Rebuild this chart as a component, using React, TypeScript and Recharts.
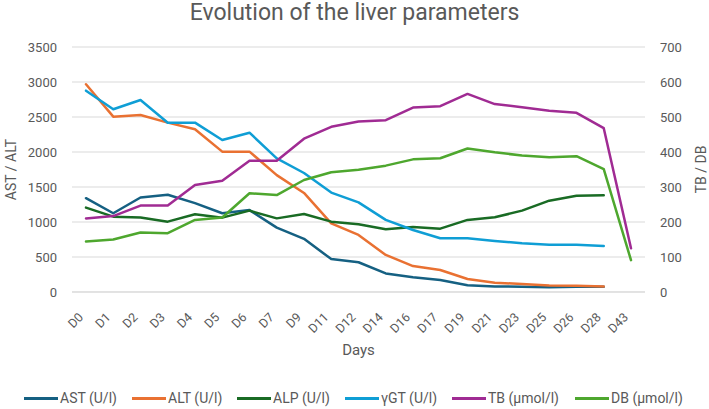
import React from 'react';
import {
  LineChart,
  Line,
  XAxis,
  YAxis,
  CartesianGrid,
  Legend,
} from 'recharts';

// Sampling days
const days = ['D0', 'D1', 'D2', 'D3', 'D4', 'D5', 'D6', 'D7', 'D9', 'D11', 'D12', 'D14', 'D16', 'D17', 'D19', 'D21', 'D23', 'D25', 'D26', 'D28', 'D43'];

// Enzymes (U/l), left axis
const ast = [1340, 1125, 1350, 1390, 1270, 1125, 1170, 920, 760, 470, 425, 265, 210, 170, 95, 78, 76, 68, 75, 76, null];
const alt = [2967, 2505, 2529, 2420, 2325, 2005, 2005, 1670, 1415, 980, 815, 530, 370, 315, 185, 133, 114, 92, 90, 78, null];
const alp = [1205, 1076, 1065, 1005, 1110, 1062, 1162, 1052, 1114, 1005, 967, 897, 929, 905, 1030, 1067, 1162, 1305, 1376, 1381, null];
const ggt = [2876, 2610, 2743, 2419, 2419, 2171, 2276, 1910, 1700, 1420, 1281, 1030, 886, 767, 767, 730, 695, 676, 676, 657, null];

// Bilirubin (µmol/l), right axis
const tb = [210, 217, 247, 247, 306, 318, 375, 375, 438, 472, 487, 491, 527, 531, 566, 537, 528, 518, 512, 468, 125];
const db = [144, 150, 170, 168, 206, 213, 282, 277, 320, 342, 349, 361, 379, 382, 410, 399, 390, 385, 388, 351, 91];

const leftTicks = [0, 500, 1000, 1500, 2000, 2500, 3000, 3500];
const rightTicks = [0, 100, 200, 300, 400, 500, 600, 700];

const series = [
  { key: 'ast', name: 'AST (U/l)', color: '#156082', axis: 'left', width: 108 },
  { key: 'alt', name: 'ALT (U/l)', color: '#E97132', axis: 'left', width: 105 },
  { key: 'alp', name: 'ALP (U/l)', color: '#196B24', axis: 'left', width: 108 },
  { key: 'ggt', name: 'γGT (U/l)', color: '#0F9ED5', axis: 'left', width: 107 },
  { key: 'tb', name: 'TB (µmol/l)', color: '#A02B93', axis: 'right', width: 123 },
  { key: 'db', name: 'DB (µmol/l)', color: '#4EA72E', axis: 'right', width: 120 },
];

const data = days.map((day, i) => ({
  day,
  ast: ast[i],
  alt: alt[i],
  alp: alp[i],
  ggt: ggt[i],
  tb: tb[i],
  db: db[i],
}));

const FONT = 'Roboto, "Liberation Sans", Arial, sans-serif';
const TEXT = '#595959';
const GRID = '#d9d9d9';

const DayTick = (props: any) => {
  const { x, y, payload } = props;
  const ex = x - 2;
  const ey = y + 26;
  return (
    <text
      x={ex}
      y={ey}
      transform={`rotate(-45 ${ex} ${ey})`}
      textAnchor="end"
      fill={TEXT}
      fontSize={12.5}
      fontFamily={FONT}
    >
      {payload.value}
    </text>
  );
};

const LegendContent = () => (
  <div
    style={{
      display: 'flex',
      height: 22,
      alignItems: 'center',
      paddingLeft: 24,
      fontFamily: FONT,
      fontSize: 14,
      color: TEXT,
      whiteSpace: 'nowrap',
    }}
  >
    {series.map((s) => (
      <div key={s.key} style={{ display: 'flex', alignItems: 'center', width: s.width }}>
        <span style={{ display: 'inline-block', width: 34, height: 3, background: s.color, marginRight: 2 }} />
        <span>{s.name}</span>
      </div>
    ))}
  </div>
);

export default function App() {
  return (
    <div style={{ position: 'absolute', left: 0, top: 0, width: 709, height: 409, background: '#fff' }}>
      <div
        style={{
          position: 'absolute',
          top: 0,
          left: 0,
          width: 709,
          textAlign: 'center',
          fontFamily: FONT,
          fontSize: 23,
          lineHeight: '26px',
          color: TEXT,
        }}
      >
        Evolution of the liver parameters
      </div>
      <LineChart
        width={709}
        height={409}
        data={data}
        margin={{ top: 47, right: 0, bottom: 0, left: 0 }}
      >
        <CartesianGrid vertical={false} stroke={GRID} strokeWidth={1} yAxisId="left" />
        <XAxis
          dataKey="day"
          interval={0}
          height={95}
          padding={{ left: 14, right: 14 }}
          tickLine={false}
          tickSize={0}
          tickMargin={0}
          axisLine={{ stroke: GRID, strokeWidth: 1 }}
          tick={<DayTick />}
          label={{
            value: 'Days',
            position: 'insideBottom',
            offset: 32,
            style: { fill: TEXT, fontSize: 15, fontFamily: FONT },
          }}
        />
        <YAxis
          yAxisId="left"
          orientation="left"
          width={72}
          domain={[0, 3500]}
          ticks={leftTicks}
          interval={0}
          axisLine={false}
          tickLine={false}
          tickSize={0}
          tickMargin={15}
          tick={{ fill: TEXT, fontSize: 13, fontFamily: FONT }}
          label={{
            value: 'AST / ALT',
            angle: -90,
            position: 'insideLeft',
            offset: 11,
            style: { textAnchor: 'middle', fill: TEXT, fontSize: 14, fontFamily: FONT },
          }}
        />
        <YAxis
          yAxisId="right"
          orientation="right"
          width={64}
          domain={[0, 700]}
          ticks={rightTicks}
          interval={0}
          axisLine={false}
          tickLine={false}
          tickSize={0}
          tickMargin={15}
          tick={{ fill: TEXT, fontSize: 13, fontFamily: FONT }}
          label={{
            value: 'TB / DB',
            angle: -90,
            position: 'insideRight',
            offset: 8,
            style: { textAnchor: 'middle', fill: TEXT, fontSize: 14, fontFamily: FONT },
          }}
        />
        <Legend verticalAlign="bottom" align="left" content={<LegendContent />} />
        {series.map((s) => (
          <Line
            key={s.key}
            yAxisId={s.axis}
            dataKey={s.key}
            name={s.name}
            type="linear"
            stroke={s.color}
            strokeWidth={2.5}
            strokeLinejoin="round"
            strokeLinecap="round"
            dot={false}
            activeDot={false}
            isAnimationActive={false}
          />
        ))}
      </LineChart>
    </div>
  );
}
